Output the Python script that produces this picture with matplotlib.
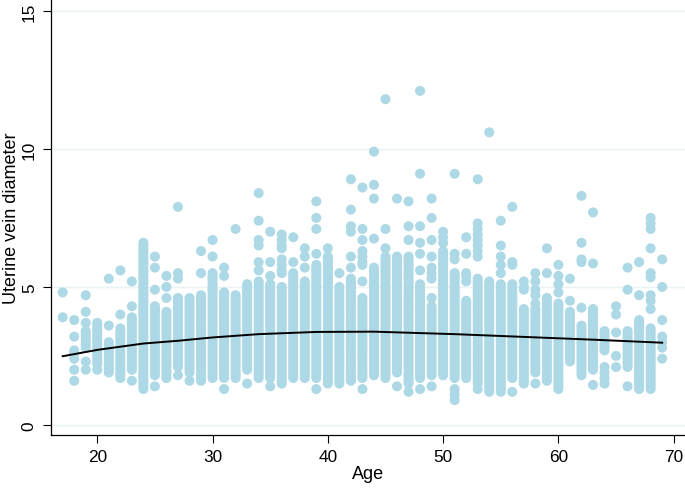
import numpy as np
import matplotlib
matplotlib.use("Agg")
import matplotlib.pyplot as plt

# --- dados ---
AGES = list(range(17, 70))

# faixa densa de cada idade (None = sem faixa continua)
DENSE_LOW = [None, None, 2.8, 2.2, 1.9, 1.7, 2.0, 1.3, 1.8, 1.7,
             2.1, 1.9, 1.6, 1.7, 1.7, 1.7, 2.0, 1.7, 1.7, 1.5,
             1.7, 1.7, 1.7, 1.5, 1.5, 1.6, 1.7, 1.8, 1.7, 1.9,
             1.5, 1.7, 1.8, 1.8, 1.7, 1.7, 1.5, 1.2, 1.2, 1.7,
             1.5, 1.9, 1.6, 1.3, 2.3, 1.8, 2.0, 2.7, None, 2.1,
             1.3, 1.3, None]
DENSE_HIGH = [None, None, 3.4, 3.6, 3.0, 3.5, 3.9, 6.6, 4.3, 4.1,
              4.6, 4.6, 4.7, 5.5, 4.8, 4.7, 5.1, 5.2, 5.1, 5.0,
              5.5, 5.2, 5.8, 6.1, 5.0, 5.3, 4.6, 5.7, 6.1, 6.1,
              6.1, 5.1, 4.3, 6.3, 5.5, 4.5, 5.3, 5.2, 5.1, 5.1,
              4.2, 4.2, 4.6, 4.4, 4.1, 3.6, 4.2, 3.4, None, 3.4,
              3.8, 3.5, None]

# pontos isolados de cada idade
EXTRA = [
    [4.8, 3.9],
    [3.8, 3.2, 2.7, 2.6, 2.4, 2.0, 1.6],
    [4.7, 4.1, 3.7, 2.3, 2.0],
    [3.7, 2.0],
    [5.3, 3.6],
    [5.6, 4.0],
    [5.2, 4.3, 1.6],
    [],
    [6.1, 5.7, 4.9, 1.4],
    [5.4, 5.0, 4.6],
    [7.9, 5.5, 5.3, 1.8],
    [1.6],
    [6.3, 5.5],
    [6.7, 6.1],
    [5.7, 5.4, 1.3],
    [7.1],
    [1.5],
    [8.4, 7.4, 6.7, 6.5, 5.9, 5.6],
    [7.0, 5.9, 5.4, 1.4],
    [6.9, 6.7, 6.5, 6.4, 6.0, 5.8, 5.6, 5.5],
    [6.8, 5.9],
    [6.4, 6.1, 5.7],
    [8.1, 7.5, 7.1, 6.2, 1.3],
    [6.4],
    [5.5],
    [8.9, 7.8, 7.2, 7.0, 6.1, 5.7],
    [8.6, 7.1, 6.7, 6.3, 6.1, 5.9, 5.8, 5.2, 1.3],
    [9.9, 8.7, 8.2, 6.75],
    [11.8, 7.1, 6.4],
    [8.2, 1.4],
    [8.1, 7.2, 6.7, 1.2],
    [12.1, 9.1, 7.2, 6.6, 6.2, 5.6, 1.3],
    [8.2, 7.5, 6.7, 6.1, 5.7, 5.5, 5.3, 4.6, 1.4],
    [7.0, 6.8, 6.6],
    [9.1, 6.2, 6.0, 1.3, 1.1, 0.9],
    [6.8, 6.2, 5.5, 5.4, 5.2],
    [8.9, 7.3, 7.1, 6.9, 6.7, 6.5, 6.3, 6.1, 1.3],
    [10.6],
    [7.4, 6.5, 6.1, 5.8, 5.5],
    [7.9, 5.9, 5.8, 1.2],
    [5.2, 5.0, 4.9],
    [5.5, 5.2, 4.9, 4.7, 4.4, 1.5],
    [6.4, 5.5],
    [5.8, 5.4, 5.1, 4.8],
    [5.3, 4.5],
    [8.3, 6.6, 6.0, 5.9, 4.25],
    [7.7, 5.85, 1.45],
    [2.1, 1.9, 1.7, 1.5],
    [4.3, 4.0, 3.35, 2.5, 2.1],
    [5.7, 4.9, 1.4],
    [5.9, 4.7],
    [7.5, 7.3, 7.1, 6.4, 5.5, 5.35, 4.7, 4.5, 4.2],
    [6.0, 5.0, 3.8, 3.2, 3.0, 2.8, 2.4],
]

# curva ajustada
FIT_AGE = [17, 20, 24, 27, 30, 34, 39, 44, 51, 57, 63, 69]
FIT_VAL = [2.49, 2.72, 2.95, 3.05, 3.17, 3.29, 3.37, 3.38, 3.29, 3.19, 3.09, 2.98]

X_TICKS = [20, 30, 40, 50, 60, 70]
Y_TICKS = [0, 5, 10, 15]

# --- monta os pontos ---
xs, ys = [], []
for age, lo, hi, extra in zip(AGES, DENSE_LOW, DENSE_HIGH, EXTRA):
    if lo is not None:
        vals = np.arange(lo, hi + 0.001, 0.1)
        xs += [age] * len(vals)
        ys += list(vals)
    xs += [age] * len(extra)
    ys += extra

plt.rcParams['font.family'] = ['Liberation Sans', 'DejaVu Sans']

fig = plt.figure(figsize=(6.85, 4.89), dpi=100)
ax = fig.add_axes([0.074, 0.108, 0.926, 0.892])

for y in Y_TICKS:
    ax.axhline(y, color='#eaf2f3', lw=1, zorder=0)

ax.scatter(xs, ys, s=52, color='#add8e6', edgecolors='none', zorder=2)
ax.plot(FIT_AGE, FIT_VAL, color='black', lw=1.4, zorder=3)

ax.set_xlim(15.96, 70.98)
ax.set_ylim(-0.37, 15.43)
ax.set_xticks(X_TICKS)
ax.set_yticks(Y_TICKS)
ax.tick_params(axis='both', labelsize=12.4, length=5.5, width=0.8, pad=4.5)
ax.tick_params(axis='y', labelrotation=90)
for lab in ax.get_yticklabels():
    lab.set_va('center')

ax.set_xlabel('Age', fontsize=13, labelpad=0.5)
ax.set_ylabel('Uterine vein diameter', fontsize=13, labelpad=1)

ax.spines['top'].set_visible(False)
ax.spines['right'].set_visible(False)
for s in ['left', 'bottom']:
    ax.spines[s].set_linewidth(0.9)

fig.savefig('out.png', dpi=100)
